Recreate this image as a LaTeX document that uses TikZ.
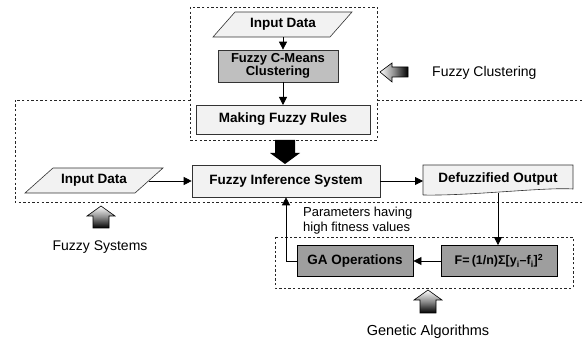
\documentclass[tikz,border=0pt]{standalone}
\usepackage{fontspec}
\setmainfont{Liberation Sans}
\usetikzlibrary{arrows.meta}

\tikzset{
  grp/.style={draw=black!85, line width=0.75pt, dash pattern=on 2.4pt off 2.2pt},
  plainbox/.style={draw=black!80, line width=0.6pt, fill=black!5},
  graybox/.style={draw=black!80, line width=0.7pt, fill=black!25},
  darkbox/.style={draw=black, line width=0.9pt, fill=black!38},
  boldtext/.style={font=\bfseries\fontsize{13.5}{14.5}\selectfont},
  lbl/.style={inner sep=0pt, boldtext},
  captext/.style={inner sep=0pt, font=\fontsize{14}{16}\selectfont},
  flow/.style={draw=black, line width=0.8pt, -{Triangle[length=8pt,width=8pt]}},
  hollow/.style={draw=black, line width=0.6pt},
  markshade/.style={top color=white, bottom color=black, middle color=black!45}
}

\begin{document}
\begin{tikzpicture}[x=1pt,y=-1pt]
\useasboundingbox (0,0) rectangle (582,342);

% ---------- group frames ----------
% fuzzy clustering block
\draw[grp] (190,7) rectangle (377,140);
% fuzzy system block (open on the right)
\draw[grp] (582,100) -- (377,100);
\draw[grp] (190,100) -- (15,100) -- (15,202) -- (582,202);
% genetic algorithm block
\draw[grp] (275,237) rectangle (573,288);

% ---------- fuzzy clustering ----------
\draw[plainbox] (213,37) -- (235,12) -- (352,12) -- (330,37) -- cycle;
\node[lbl] (in1) at (283,24.5) {Input Data};

\node[graybox, minimum width=120pt, minimum height=32pt, inner sep=0pt,
      align=center, boldtext, font=\bfseries\fontsize{13}{13.5}\selectfont]
      (fcm) at (278,66) {Fuzzy C-Means\\Clustering};

\node[plainbox, minimum width=174pt, minimum height=29pt, inner sep=0pt, boldtext]
      (mfr) at (283,119.5) {Making Fuzzy Rules};

\coordinate (in1b) at (283,37);
\draw[flow] (in1b) -- (in1b |- fcm.north);
\draw[flow] (283,82) -- (283,105);

% ---------- fuzzy system ----------
\node[plainbox, minimum width=188pt, minimum height=32pt, inner sep=0pt, boldtext]
      (fis) at (286,181) {Fuzzy Inference System};

\draw[plainbox] (25,193) -- (53,168) -- (163,168) -- (135,193) -- cycle;
\node[lbl] (in2) at (94,180.5) {Input Data};

% defuzzified output, document-like outline
\draw[plainbox] (423,195) -- (423,165) -- (573,165) -- (573,189)
      .. controls (545,187) and (470,196) .. (423,195);
\node[lbl] (defz) at (498,179) {Defuzzified Output};

% thick arrow from rules into inference system
\fill[black] (275,140) -- (295,140) -- (295,153) -- (300,153) -- (285,164)
      -- (270,153) -- (275,153) -- cycle;

\coordinate (in2r) at (149,181);
\draw[flow] (in2r) -- (fis.west |- in2r);
\draw[flow] (fis.east) -- (423,181);

% ---------- genetic algorithm ----------
\node[darkbox, minimum width=116pt, minimum height=31pt, inner sep=0pt,
      font=\bfseries\fontsize{12.5}{14}\selectfont]
      (form) at (499,261)
      {F=\,(1/n)Σ[y\textsubscript{i}–f\textsubscript{i}]\textsuperscript{2}};
\node[darkbox, minimum width=116pt, minimum height=31pt, inner sep=0pt, boldtext]
      (ga) at (355,261) {GA Operations};

\coordinate (defb) at (498,193);
\draw[flow] (defb) -- (defb |- form.north);
\draw[flow] (form.west) -- (ga.east);
\draw[flow] (ga.west) -- (286,261) -- (fis.south);

\node[inner sep=0pt, anchor=north west, align=left, font=\fontsize{13}{14.5}\selectfont]
      (par) at (303,207) {Parameters having\\high fitness values};

% ---------- block markers ----------
% fuzzy clustering marker (points left)
\shade[left color=white, right color=black, middle color=black!45]
  (380,72) -- (392,63) -- (392,67) -- (408,67) -- (408,77) -- (392,77)
  -- (392,82) -- cycle;
\draw[hollow] (380,72) -- (392,63) -- (392,67) -- (408,67) -- (408,77)
  -- (392,77) -- (392,82) -- cycle;
\node[captext, anchor=west] (fc) at (432,73) {Fuzzy Clustering};

% fuzzy systems marker (points up)
\shade[markshade]
  (101,206) -- (115,216) -- (109,216) -- (109,228) -- (93,228) -- (93,216)
  -- (87,216) -- cycle;
\draw[hollow] (101,206) -- (115,216) -- (109,216) -- (109,228) -- (93,228)
  -- (93,216) -- (87,216) -- cycle;
\node[captext] (fs) at (100,247) {Fuzzy Systems};

% genetic algorithms marker (points up)
\shade[markshade]
  (428,290) -- (442,300) -- (436,300) -- (436,313) -- (420,313) -- (420,300)
  -- (414,300) -- cycle;
\draw[hollow] (428,290) -- (442,300) -- (436,300) -- (436,313) -- (420,313)
  -- (420,300) -- (414,300) -- cycle;
\node[captext, font=\fontsize{14.5}{16}\selectfont] (gal) at (428,332) {Genetic Algorithms};
\end{tikzpicture}
\end{document}
